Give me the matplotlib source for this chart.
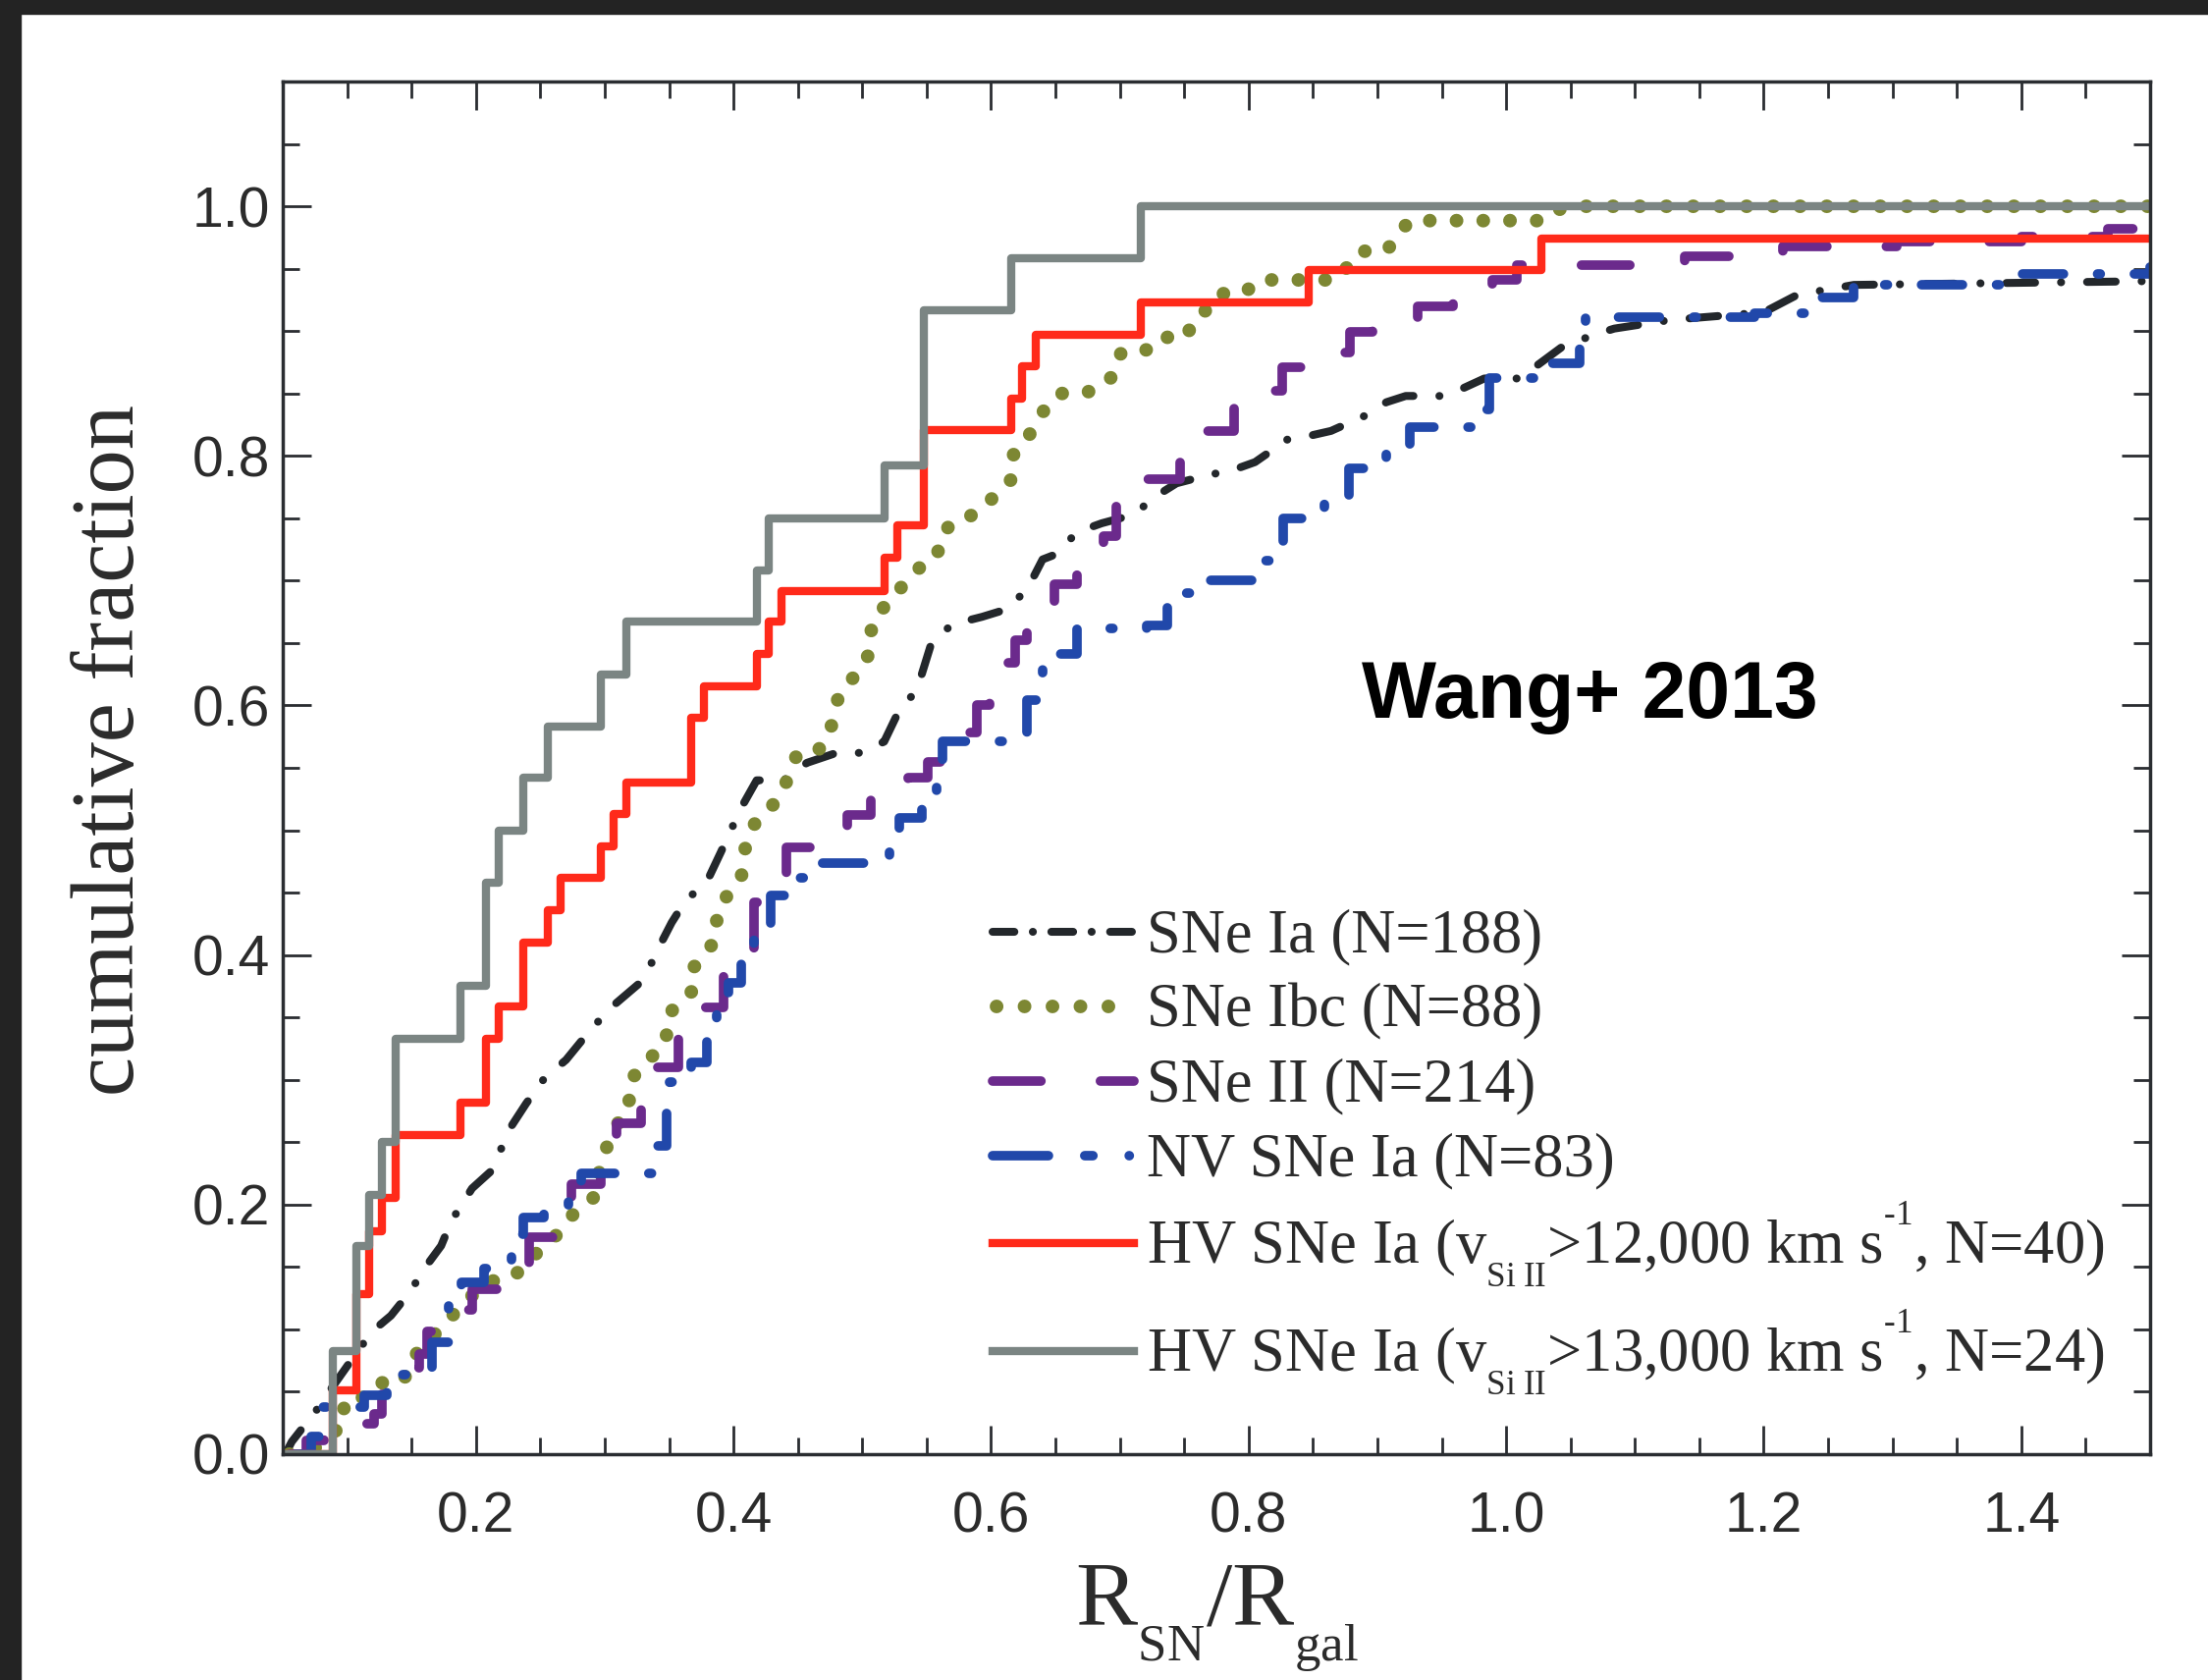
import numpy as np
import matplotlib
matplotlib.use('Agg')
import matplotlib.pyplot as plt
import matplotlib._mathtext as mathtext_core
from matplotlib.patches import Rectangle
from matplotlib.ticker import MultipleLocator, FormatStrFormatter

plt.rcParams['mathtext.fontset'] = 'custom'
plt.rcParams['mathtext.rm'] = 'Liberation Serif'
plt.rcParams['mathtext.it'] = 'Liberation Serif:italic'
plt.rcParams['lines.scale_dashes'] = False
# small, well separated sub/superscripts
mathtext_core.SHRINK_FACTOR = 0.56
mathtext_core.FontConstantsBase.sub1 = 0.85
mathtext_core.FontConstantsBase.sup1 = 1.35

# cumulative distributions of R_SN / R_gal
ia_r = [0.052, 0.057, 0.076, 0.088, 0.101, 0.119, 0.134, 0.148, 0.163, 0.173, 0.181, 0.197,
        0.212, 0.227, 0.239, 0.253, 0.270, 0.289, 0.305, 0.330, 0.344, 0.352, 0.363, 0.379,
        0.390, 0.406, 0.418, 0.439, 0.457, 0.480, 0.499, 0.517, 0.530, 0.542, 0.554, 0.570,
        0.593, 0.612, 0.628, 0.640, 0.650, 0.667, 0.686, 0.711, 0.727, 0.744, 0.770, 0.786,
        0.805, 0.830, 0.847, 0.864, 0.890, 0.907, 0.922, 0.949, 0.964, 0.983, 1.010, 1.026,
        1.043, 1.068, 1.084, 1.128, 1.200, 1.226, 1.270, 1.500]
ia_f = [0.000, 0.010, 0.035, 0.053, 0.072, 0.098, 0.111, 0.129, 0.153, 0.167, 0.187, 0.213,
        0.227, 0.262, 0.281, 0.301, 0.316, 0.340, 0.358, 0.380, 0.410, 0.426, 0.444, 0.458,
        0.482, 0.518, 0.540, 0.540, 0.554, 0.562, 0.562, 0.571, 0.599, 0.611, 0.651, 0.665,
        0.671, 0.677, 0.693, 0.717, 0.721, 0.739, 0.746, 0.753, 0.767, 0.778, 0.785, 0.788,
        0.795, 0.813, 0.816, 0.820, 0.832, 0.843, 0.848, 0.848, 0.853, 0.862, 0.862, 0.874,
        0.887, 0.897, 0.902, 0.909, 0.915, 0.929, 0.937, 0.940]

ibc_r = [0.055, 0.075, 0.090, 0.0975, 0.0975, 0.115, 0.123, 0.144, 0.148, 0.167, 0.177, 0.189,
         0.208, 0.228, 0.247, 0.257, 0.267, 0.276, 0.293, 0.297, 0.309, 0.319, 0.319, 0.328,
         0.348, 0.348, 0.3575, 0.369, 0.369, 0.379, 0.387, 0.387, 0.394, 0.406, 0.408, 0.410,
         0.418, 0.427, 0.437, 0.449, 0.464, 0.474, 0.478, 0.482, 0.492, 0.501, 0.507, 0.507,
         0.517, 0.534, 0.546, 0.558, 0.5614, 0.5716, 0.587, 0.597, 0.607, 0.6175, 0.6175, 0.628,
         0.6345, 0.643, 0.653, 0.672, 0.687, 0.697, 0.701, 0.721, 0.730, 0.752, 0.757, 0.769,
         0.777, 0.796, 0.808, 0.868, 0.878, 0.886, 0.907, 0.915, 0.925, 1.027, 1.038, 1.055,
         1.500]
ibc_f = [0.000, 0.005, 0.018, 0.023, 0.043, 0.046, 0.057, 0.058, 0.074, 0.095, 0.106, 0.119,
         0.138, 0.141, 0.161, 0.170, 0.180, 0.193, 0.207, 0.235, 0.2635, 0.276, 0.298, 0.310,
         0.330, 0.350, 0.362, 0.372, 0.390, 0.402, 0.414, 0.434, 0.446, 0.462, 0.476, 0.493,
         0.508, 0.516, 0.528, 0.560, 0.562, 0.5745, 0.5925, 0.609, 0.621, 0.633, 0.645, 0.665,
         0.679, 0.699, 0.712, 0.719, 0.737, 0.748, 0.753, 0.762, 0.772, 0.783, 0.802, 0.813,
         0.827, 0.839, 0.850, 0.850, 0.856, 0.867, 0.883, 0.885, 0.895, 0.895, 0.910, 0.918,
         0.930, 0.930, 0.941, 0.941, 0.953, 0.964, 0.964, 0.976, 0.9885, 0.9885, 0.997, 1.000,
         1.000]

ii_r = [0.055, 0.068, 0.082, 0.121, 0.127, 0.134, 0.146, 0.156, 0.162, 0.189, 0.197, 0.228,
        0.241, 0.270, 0.274, 0.297, 0.309, 0.328, 0.336, 0.3575, 0.3613, 0.3925, 0.396, 0.416,
        0.4255, 0.441, 0.468, 0.488, 0.507, 0.536, 0.551, 0.575, 0.589, 0.599, 0.619, 0.628,
        0.649, 0.667, 0.687, 0.697, 0.718, 0.747, 0.759, 0.789, 0.806, 0.826, 0.850, 0.879,
        0.896, 0.931, 0.959, 0.989, 1.008, 1.139, 1.215, 1.303, 1.400, 1.467, 1.500]
ii_f = [0.000, 0.011, 0.024, 0.032, 0.048, 0.054, 0.069, 0.080, 0.098, 0.116, 0.132, 0.153,
        0.174, 0.199, 0.216, 0.245, 0.265, 0.302, 0.310, 0.338, 0.358, 0.384, 0.404, 0.442,
        0.452, 0.486, 0.490, 0.512, 0.524, 0.542, 0.555, 0.5785, 0.600, 0.634, 0.652, 0.682,
        0.697, 0.722, 0.736, 0.769, 0.781, 0.799, 0.820, 0.850, 0.852, 0.871, 0.883, 0.899,
        0.910, 0.920, 0.924, 0.941, 0.953, 0.960, 0.968, 0.972, 0.976, 0.982, 0.983]

nv_r = [0.060, 0.072, 0.080, 0.113, 0.131, 0.146, 0.166, 0.179, 0.189, 0.206, 0.228, 0.237,
        0.253, 0.272, 0.282, 0.337, 0.348, 0.350, 0.367, 0.379, 0.387, 0.396, 0.406, 0.416,
        0.429, 0.449, 0.466, 0.521, 0.5285, 0.546, 0.558, 0.562, 0.628, 0.640, 0.667, 0.721,
        0.737, 0.755, 0.806, 0.827, 0.859, 0.878, 0.907, 0.925, 0.975, 0.987, 1.035, 1.057,
        1.062, 1.193, 1.237, 1.270, 1.400, 1.500]
nv_f = [0.000, 0.014, 0.038, 0.047, 0.064, 0.069, 0.090, 0.124, 0.138, 0.149, 0.1765, 0.190,
        0.199, 0.213, 0.225, 0.247, 0.274, 0.298, 0.314, 0.336, 0.358, 0.378, 0.402, 0.424,
        0.448, 0.462, 0.474, 0.486, 0.510, 0.526, 0.552, 0.571, 0.604, 0.641, 0.662, 0.664,
        0.690, 0.700, 0.716, 0.750, 0.762, 0.790, 0.809, 0.823, 0.837, 0.862, 0.874, 0.890,
        0.911, 0.914, 0.927, 0.937, 0.946, 0.951]

hv12_r = [0.05, 0.089, 0.107, 0.117, 0.127, 0.138, 0.188, 0.208, 0.218, 0.237, 0.256, 0.266,
          0.297, 0.307, 0.317, 0.367, 0.377, 0.418, 0.427, 0.437, 0.517, 0.527, 0.548, 0.616,
          0.624, 0.635, 0.716, 0.847, 1.027, 1.5]
hv12_f = [0.000, 0.051, 0.128, 0.179, 0.205, 0.256, 0.282, 0.333, 0.359, 0.410, 0.436, 0.462,
          0.487, 0.513, 0.538, 0.590, 0.615, 0.641, 0.667, 0.692, 0.718, 0.744, 0.821, 0.846,
          0.872, 0.897, 0.923, 0.949, 0.974, 0.974]

hv13_r = [0.05, 0.089, 0.107, 0.117, 0.127, 0.138, 0.188, 0.208, 0.218, 0.237, 0.256, 0.297,
          0.317, 0.418, 0.427, 0.517, 0.548, 0.616, 0.716, 1.5]
hv13_f = [0.000, 0.083, 0.167, 0.208, 0.250, 0.333, 0.375, 0.458, 0.500, 0.542, 0.583, 0.625,
          0.667, 0.708, 0.750, 0.792, 0.917, 0.958, 1.000, 1.000]

labels = ['SNe Ia (N=188)',
          'SNe Ibc (N=88)',
          'SNe II (N=214)',
          'NV SNe Ia (N=83)',
          r'HV SNe Ia (v$_{\rm Si\ II}$>12,000 km s$^{\text{-1}}$, N=40)',
          r'HV SNe Ia (v$_{\rm Si\ II}$>13,000 km s$^{\text{-1}}$, N=24)']

colors = ['#23272b', '#7d8733', '#6b2a8c', '#2148aa', '#ff2a1a', '#7b8583']
widths = [5.8, 10, 7, 7, 6, 6]
# dash patterns along the curves and in the key
curve_ls = [(0, (21, 19, 0.1, 19)), (0, (0.1, 19.5)), (0, (35.5, 43.6)),
            (0, (30, 25, 2, 25)), '-', '-']
key_ls = [(0, (16, 13.5, 0.1, 13.5)), (17.6, (0.1, 20.4)), (0, (35.5, 43.6)),
          (0, (41, 26.6, 6, 26.6, 0.1, 26.6)), '-', '-']
steps = ['default', 'default', 'steps-post', 'steps-post', 'steps-post', 'steps-post']
series = [(ia_r, ia_f), (ibc_r, ibc_f), (ii_r, ii_f), (nv_r, nv_f),
          (hv12_r, hv12_f), (hv13_r, hv13_f)]

# key rows: handle height (pixels from the top of the figure)
key_rows = [949, 1025, 1101, 1177, 1266, 1376]

ink = '#2a2d31'
txt = '#2b2b2b'

fig = plt.figure(figsize=(22.49, 17.11), dpi=100)
ax = fig.add_axes([288 / 2249, 1 - 1481 / 1711, 1902 / 2249, 1398 / 1711])

# dark frame along top and left edge
fig.patches.append(Rectangle((0, 1 - 14 / 1711), 1, 14 / 1711, transform=fig.transFigure,
                             color='#232323', zorder=10))
fig.patches.append(Rectangle((0, 0), 21 / 2249, 1, transform=fig.transFigure,
                             color='#232323', zorder=10))

for (r, f), c, w, ls, ds in zip(series, colors, widths, curve_ls, steps):
    ax.plot(r, f, drawstyle=ds, color=c, lw=w, ls=ls, dash_capstyle='round')

ax.set_xlim(0.05, 1.5)
ax.set_ylim(0, 1.1)
ax.xaxis.set_major_locator(MultipleLocator(0.2))
ax.xaxis.set_minor_locator(MultipleLocator(0.05))
ax.yaxis.set_major_locator(MultipleLocator(0.2))
ax.yaxis.set_minor_locator(MultipleLocator(0.05))
ax.xaxis.set_major_formatter(FormatStrFormatter('%.1f'))
ax.yaxis.set_major_formatter(FormatStrFormatter('%.1f'))

for s in ax.spines.values():
    s.set_linewidth(2.5)
    s.set_color(ink)
ax.tick_params(which='both', direction='in', top=True, right=True, color=ink, width=2,
               labelsize=41, labelcolor=txt)
ax.tick_params(which='major', length=21)
ax.tick_params(which='minor', length=12)
ax.tick_params(axis='x', pad=27)
ax.tick_params(axis='y', pad=9.5)
for lab in ax.get_xticklabels() + ax.get_yticklabels():
    lab.set_family('Liberation Sans')

ax.text(0.5, -0.125, r'R$_{\rm SN}$/R$_{\rm gal}$', transform=ax.transAxes, ha='center',
        va='baseline', fontsize=68, family='Liberation Serif', color=txt)
fig.text(113.5 / 2249, 1 - 764 / 1711, 'cumulative fraction', rotation=90, ha='center',
         va='center', fontsize=65, family='Liberation Serif', color=txt)

ax.text(0.8875, 0.590, 'Wang+ 2013', fontsize=58, fontweight='bold',
        family='Liberation Sans', color='black', va='baseline')

# key drawn row by row
for yrow, c, w, ls, lab in zip(key_rows, colors, widths, key_ls, labels):
    ya = (1481 - yrow) / 1398
    ax.plot([0.3801, 0.4558], [ya, ya], transform=ax.transAxes, clip_on=False,
            color=c, lw=w, ls=ls, dash_capstyle='round')
    ax.text(0.4625, ya - 20 / 1398, lab, transform=ax.transAxes, ha='left', va='baseline',
            fontsize=45, family='Liberation Serif', color=txt)

fig.savefig('out.png', dpi=100)
